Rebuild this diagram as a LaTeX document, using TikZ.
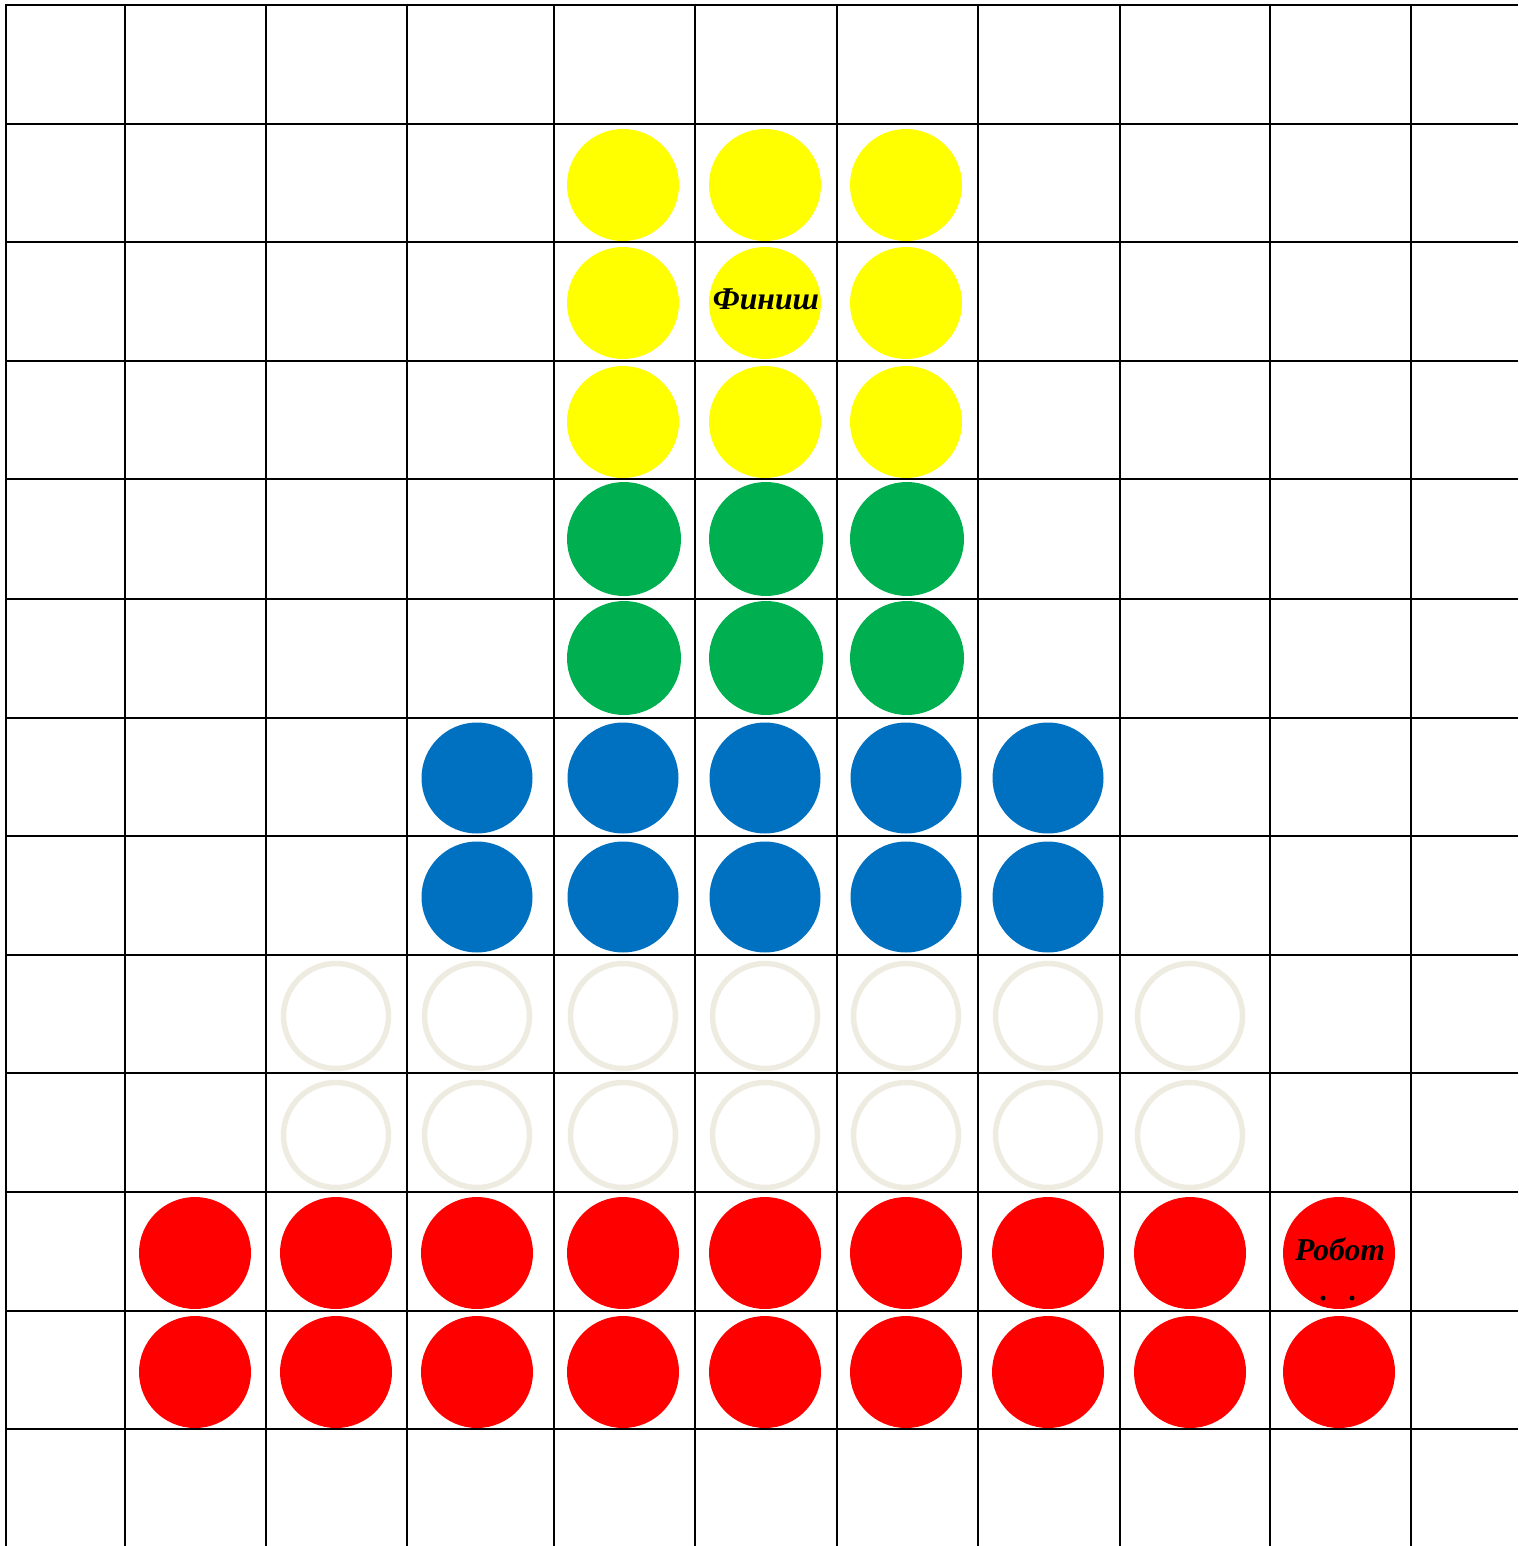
\documentclass[tikz,border=0pt]{standalone}
\usepackage{fontspec}
\setmainfont{Liberation Serif}
\definecolor{cyel}{HTML}{FFFF00}
\definecolor{cgrn}{HTML}{00B050}
\definecolor{cblu}{HTML}{0070C0}
\definecolor{cred}{HTML}{FF0000}
\definecolor{cring}{HTML}{EEECE1}
\begin{document}
\begin{tikzpicture}[x=1pt,y=-1pt,
  gridline/.style={draw=black,line width=2pt},
  disc/.style={circle,inner sep=0pt,minimum size=112pt,draw=none},
  ydisc/.style={disc,fill=cyel},
  gdisc/.style={disc,fill=cgrn,minimum size=114pt},
  bdisc/.style={disc,fill=cblu,minimum size=111pt},
  rdisc/.style={disc,fill=cred},
  ring/.style={circle,inner sep=0pt,minimum size=105pt,draw=cring,line width=5.5pt},
  lbl/.style={inner sep=0pt,font=\fontsize{31.7}{36}\selectfont\bfseries\itshape},
  pt/.style={circle,fill=black,inner sep=0pt,minimum size=5pt}]
\useasboundingbox (0,0) rectangle (1518,1546);
\fill[white] (0,0) rectangle (1518,1546);
\foreach \x in {6,125,266,407,554,695,837,978,1120,1270,1411}
  \draw[gridline] (\x,4) -- (\x,1546);
\foreach \y in {5,124,242,361,479,599,718,836,955,1073,1192,1311,1429}
  \draw[gridline] (5,\y) -- (1518,\y);
% yellow
\foreach \c/\cx in {4/623,5/765,6/906}
  \foreach \r/\cy in {1/185,2/303,3/422}
    \node[ydisc] (y\c-\r) at (\cx,\cy) {};
% green
\foreach \c/\cx in {4/624,5/766,6/907}
  \foreach \r/\cy in {4/539,5/658}
    \node[gdisc] (g\c-\r) at (\cx,\cy) {};
% blue
\foreach \c/\cx in {3/477,4/623,5/765,6/906,7/1048}
  \foreach \r/\cy in {6/778,7/897}
    \node[bdisc] (b\c-\r) at (\cx,\cy) {};
% rings
\foreach \c/\cx in {2/336,3/477,4/623,5/765,6/906,7/1048,8/1190}
  \foreach \r/\cy in {8/1016,9/1135}
    \node[ring] (w\c-\r) at (\cx,\cy) {};
% red
\foreach \c/\cx in {1/195,2/336,3/477,4/623,5/765,6/906,7/1048,8/1190,9/1339}
  \foreach \r/\cy in {10/1253,11/1372}
    \node[rdisc] (r\c-\r) at (\cx,\cy) {};
\node[lbl] (finish) at (766,299) {Финиш};
\node[lbl] (robot) at (1340,1249) {Робот};
\node[pt] (dot1) at (1323,1298) {};
\node[pt] (dot2) at (1352,1298) {};
\end{tikzpicture}
\end{document}
